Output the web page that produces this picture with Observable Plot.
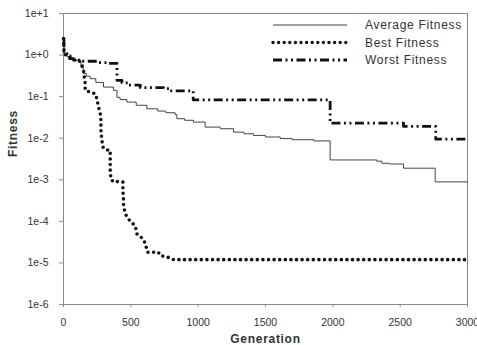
<!DOCTYPE html>
<html>
<head>
<meta charset="utf-8">
<script src="https://cdn.jsdelivr.net/npm/d3@7"></script>
<script src="https://cdn.jsdelivr.net/npm/@observablehq/plot@0.6"></script>
<style>
  html, body { margin: 0; padding: 0; background: #fff; }
  #wrap { position: relative; width: 477px; height: 345px; }
  #wrap svg { position: absolute; left: 0; top: 0; }
  .title-text { letter-spacing: 0.7px; }
</style>
</head>
<body>
<div id="wrap"></div>
<script>
// ---- data ----
const seriesNames = ["Average Fitness", "Best Fitness", "Worst Fitness"];

const avgGen = [0, 5, 25, 50, 74, 110, 130, 147, 170, 198, 240, 297, 371, 397, 420, 471, 540, 619, 700, 760, 829, 842, 900, 965, 1052, 1164, 1262, 1340, 1411, 1500, 1609, 1700, 1860, 1980, 2327, 2364, 2420, 2525, 2760, 3000];
const avgVal = [1.6, 1.1, 0.92, 0.8, 0.75, 0.7, 0.5, 0.36, 0.31, 0.27, 0.22, 0.17, 0.142, 0.096, 0.085, 0.074, 0.062, 0.051, 0.045, 0.041, 0.037, 0.0295, 0.027, 0.0244, 0.0185, 0.0169, 0.014, 0.0128, 0.0117, 0.0107, 0.0098, 0.0092, 0.0086, 0.0030, 0.0028, 0.0025, 0.0024, 0.0019, 0.00089, 0.00089];

const bestGen = [0, 5, 25, 50, 74, 111, 124, 137, 149, 154, 161, 161, 198, 235, 248, 260, 273, 278, 278, 285, 293, 310, 347, 347, 347, 352, 371, 408, 441, 441, 446, 446, 466, 495, 532, 545, 582, 599, 614, 624, 705, 718, 768, 817, 3000];
const bestVal = [2.5, 1.09, 0.94, 0.82, 0.75, 0.78, 0.68, 0.57, 0.43, 0.30, 0.21, 0.142, 0.129, 0.118, 0.0895, 0.056, 0.039, 0.027, 0.0155, 0.0089, 0.0061, 0.0053, 0.0051, 0.0029, 0.0017, 0.00105, 0.00088, 0.00091, 0.00088, 0.00055, 0.00032, 0.00022, 0.000138, 0.0001, 7.9e-5, 5.0e-5, 4.0e-5, 3.4e-5, 2.4e-5, 1.8e-5, 1.8e-5, 1.5e-5, 1.4e-5, 1.2e-5, 1.2e-5];

const worstGen = [0, 3, 25, 50, 74, 124, 250, 320, 397, 434, 480, 570, 743, 792, 963, 1980, 2525, 2764, 3000];
const worstVal = [2.5, 1.1, 0.95, 0.82, 0.76, 0.71, 0.66, 0.63, 0.247, 0.215, 0.19, 0.165, 0.156, 0.138, 0.0837, 0.0231, 0.0192, 0.0095, 0.0095];

const xTicks = [0, 500, 1000, 1500, 2000, 2500, 3000];
const yTicks = [10, 1, 0.1, 0.01, 0.001, 0.0001, 0.00001, 0.000001];
const yTickLabels = ["1e+1", "1e+0", "1e-1", "1e-2", "1e-3", "1e-4", "1e-5", "1e-6"];
const xTitle = "Generation";
const yTitle = "Fitness";

// ---- build tables ----
const toRows = (g, v) => g.map((d, i) => ({gen: d, val: v[i]}));
const avgRows = toRows(avgGen, avgVal);
const bestRows = toRows(bestGen, bestVal);
const worstRows = toRows(worstGen, worstVal);

const FONT = "'Liberation Sans', Arial, Helvetica, sans-serif";
const WORST_DASH = "9,3.5,2,3.5,2,3.5";

const chart = Plot.plot({
  width: 477,
  height: 345,
  marginLeft: 63,
  marginRight: 10,
  marginTop: 13,
  marginBottom: 41,
  style: {fontFamily: FONT, fontSize: "10.5px", color: "#333", background: "transparent"},
  x: {domain: [0, 3000]},
  y: {type: "log", domain: [1e-6, 10]},
  marks: [
    Plot.frame({stroke: "#8a8a8a", strokeWidth: 1}),
    Plot.axisY({ticks: yTicks, tickFormat: d => yTickLabels[yTicks.findIndex(t => Math.abs(Math.log10(t) - Math.log10(d)) < 1e-6)], tickSize: 4, tickPadding: 11, stroke: "#8a8a8a", label: null}),
    Plot.axisX({ticks: xTicks, tickFormat: d => String(d), tickSize: 3, tickPadding: 11, stroke: "#8a8a8a", label: null}),
    Plot.line(avgRows, {x: "gen", y: "val", curve: "step-after", stroke: "#444", strokeWidth: 1}),
    Plot.line(bestRows, {x: "gen", y: "val", stroke: "#111", strokeWidth: 3.6, strokeDasharray: "0,5.6", strokeLinecap: "round", strokeLinejoin: "round"}),
    Plot.line(worstRows, {x: "gen", y: "val", curve: "step-after", stroke: "#111", strokeWidth: 2.8, strokeDasharray: WORST_DASH, strokeLinecap: "butt"}),
    Plot.text([xTitle], {text: d => d, frameAnchor: "bottom", dy: 35, fontWeight: "bold", fontSize: 12, fill: "#333", lineAnchor: "middle"}),
    Plot.text([yTitle], {text: d => d, frameAnchor: "left", dx: -50, dy: -2, rotate: -90, fontWeight: "bold", fontSize: 12, fill: "#333", lineAnchor: "middle"})
  ]
});

const wrap = document.getElementById("wrap");
wrap.appendChild(chart);

// letter spacing for titles
d3.select(chart).selectAll("text").filter(function() {
  const t = this.textContent; return t === xTitle || t === yTitle;
}).attr("class", "title-text");

// ---- legend overlay ----
const legendStyles = [
  {stroke: "#444", width: 1, dash: null, cap: "butt"},
  {stroke: "#111", width: 3.4, dash: "0,5.6", cap: "round"},
  {stroke: "#111", width: 2.8, dash: WORST_DASH, cap: "butt"}
];
const leg = d3.select(wrap).append("svg")
  .attr("width", 477).attr("height", 345)
  .style("pointer-events", "none");
const rowY = [25, 42.5, 60];
seriesNames.forEach((name, i) => {
  const s = legendStyles[i];
  const ln = leg.append("line")
    .attr("x1", 273).attr("x2", 347)
    .attr("y1", rowY[i]).attr("y2", rowY[i])
    .attr("stroke", s.stroke).attr("stroke-width", s.width)
    .attr("stroke-linecap", s.cap);
  if (s.dash) ln.attr("stroke-dasharray", s.dash);
  leg.append("text")
    .attr("x", 365).attr("y", rowY[i])
    .attr("dy", "0.35em")
    .attr("class", "title-text")
    .style("font-family", FONT).style("font-size", "12px")
    .attr("fill", "#333")
    .text(name);
});
</script>
</body>
</html>
